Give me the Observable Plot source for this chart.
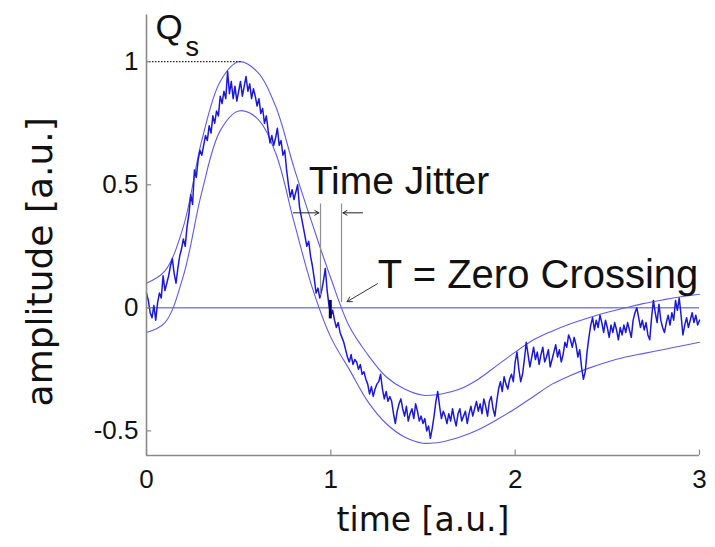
<!DOCTYPE html>
<html><head><meta charset="utf-8">
<script src="https://cdn.jsdelivr.net/npm/d3@7"></script>
<script src="https://cdn.jsdelivr.net/npm/@observablehq/plot@0.6"></script>
<style>body{margin:0;background:#fff}</style>
</head><body><div id="chart"></div>
<script>
// ---- data ----
const envTime = [0,0.1,0.2,0.3,0.4,0.5,0.6,0.7,0.8,0.9,1.0,1.1,1.2,1.3,1.4,1.5,1.6,1.7,1.8,1.9,2.0,2.1,2.2,2.3,2.4,2.5,2.6,2.7,2.8,2.9,3.0];
const upperEnv = [0.10,0.15,0.33,0.68,0.92,1.00,0.96,0.82,0.57,0.34,0.12,-0.075,-0.19,-0.28,-0.33,-0.355,-0.35,-0.33,-0.29,-0.235,-0.18,-0.13,-0.095,-0.065,-0.04,-0.018,0.0,0.018,0.032,0.045,0.055];
const lowerEnv = [-0.10,-0.06,0.13,0.47,0.72,0.80,0.77,0.63,0.35,0.08,-0.12,-0.25,-0.38,-0.47,-0.525,-0.55,-0.545,-0.525,-0.495,-0.455,-0.41,-0.36,-0.31,-0.275,-0.245,-0.22,-0.20,-0.185,-0.17,-0.155,-0.14];

const signalStart = 0, signalStep = 0.01;
const signal = [
 0.06,0.03,-0.02,-0.04,0.01,-0.05,0.02,0.06,0.04,0.13,
 0.07,0.10,0.13,0.17,0.20,0.14,0.10,0.16,0.21,0.24,
 0.28,0.25,0.33,0.38,0.46,0.42,0.56,0.53,0.60,0.64,
 0.62,0.66,0.70,0.68,0.74,0.71,0.78,0.75,0.80,0.78,
 0.86,0.83,0.88,0.85,0.96,0.87,0.92,0.85,0.90,0.84,
 0.88,0.92,0.86,0.90,0.94,0.88,0.91,0.85,0.89,0.86,
 0.82,0.85,0.79,0.81,0.75,0.78,0.72,0.67,0.70,0.66,
 0.69,0.73,0.66,0.68,0.62,0.64,0.56,0.50,0.45,0.48,
 0.44,0.47,0.50,0.41,0.37,0.33,0.29,0.25,0.27,0.21,
 0.17,0.12,0.06,0.08,0.04,0.07,0.11,0.16,0.07,0.01,
 -0.03,-0.01,-0.05,-0.08,-0.06,-0.10,-0.12,-0.14,-0.17,-0.20,
 -0.22,-0.19,-0.23,-0.21,-0.22,-0.25,-0.23,-0.27,-0.26,-0.29,
 -0.31,-0.35,-0.32,-0.36,-0.33,-0.31,-0.30,-0.27,-0.33,-0.37,
 -0.34,-0.38,-0.36,-0.38,-0.43,-0.47,-0.42,-0.39,-0.37,-0.41,
 -0.44,-0.40,-0.46,-0.43,-0.41,-0.45,-0.39,-0.42,-0.46,-0.44,
 -0.47,-0.45,-0.50,-0.48,-0.53,-0.49,-0.44,-0.38,-0.34,-0.40,
 -0.45,-0.42,-0.44,-0.47,-0.43,-0.46,-0.41,-0.45,-0.48,-0.43,
 -0.41,-0.46,-0.44,-0.42,-0.47,-0.43,-0.40,-0.44,-0.41,-0.38,
 -0.42,-0.39,-0.43,-0.37,-0.40,-0.44,-0.38,-0.36,-0.41,-0.44,
 -0.38,-0.33,-0.30,-0.34,-0.28,-0.31,-0.33,-0.29,-0.27,-0.30,
 -0.22,-0.18,-0.25,-0.30,-0.27,-0.21,-0.14,-0.19,-0.24,-0.20,
 -0.16,-0.21,-0.18,-0.23,-0.19,-0.16,-0.22,-0.20,-0.17,-0.24,
 -0.21,-0.18,-0.15,-0.20,-0.17,-0.22,-0.19,-0.14,-0.16,-0.11,
 -0.13,-0.16,-0.12,-0.15,-0.20,-0.17,-0.24,-0.29,-0.26,-0.18,
 -0.12,-0.07,-0.04,-0.09,-0.05,-0.08,-0.03,-0.06,-0.10,-0.05,
 -0.08,-0.12,-0.07,-0.10,-0.06,-0.09,-0.13,-0.08,-0.11,-0.07,
 -0.10,-0.06,-0.09,-0.12,-0.05,-0.02,0.00,-0.04,-0.08,-0.05,
 -0.09,-0.06,-0.11,-0.13,-0.04,0.03,-0.02,-0.06,0.015,-0.05,
 -0.08,-0.10,-0.06,-0.03,-0.07,-0.02,-0.05,0.03,-0.01,0.04,
 -0.03,-0.11,-0.07,-0.04,-0.08,-0.05,-0.02,-0.06,-0.03,-0.07,
 -0.05
];

const xTicks = [0,1,2,3];
const yTicks = [-0.5,0,0.5,1];
const xDomain = [0,3];
const yDomain = [-0.6,1.2];
const yAxisTop = 1.19;
const xTickLen = 0.022;   // inward tick length, y units
const yTickLen = 0.028;   // inward tick length, x units

// annotations (data units)
const qsLevel = 1, qsEnd = 0.52;
const jitterX = [0.944, 1.058];
const jitterTop = [0.422, 0.422];
const jitterBottom = [0.049, 0.021];
const jitterArrows = [
  {x1: 0.797, y1: 0.386, x2: 0.935, y2: 0.386},
  {x1: 1.172, y1: 0.386, x2: 1.066, y2: 0.386}
];
const zeroArrow = [{x1: 1.253, y1: 0.098, x2: 1.088, y2: 0.025}];
const zeroMark = [{x: 0.997, y1: 0.03, y2: -0.045}];
const labels = [
  {text: "Time Jitter", x: 0.88, y: 0.514, size: 39},
  {text: "T = Zero Crossing", x: 1.255, y: 0.134, size: 40},
  {text: "Q", x: 0.049, y: 1.139, size: 35},
  {text: "s", x: 0.212, y: 1.059, size: 27}
];
const xTitle = {text: "time [a.u.]", x: 1.5, y: -0.862};
const yTitle = {text: "amplitude [a.u.]", x: -0.575, y: 0.187};

const envData = envTime.map((t, i) => ({t, u: upperEnv[i], l: lowerEnv[i]}));
const sigData = signal.map((v, i) => ({t: signalStart + i * signalStep, v}));

const sansFont = "'Liberation Sans', Arial, sans-serif";
const labelFont = "'DejaVu Sans', Verdana, sans-serif";
const axisGray = "#8a8a8a";

const chart = Plot.plot({
  width: 715,
  height: 547,
  marginLeft: 146,
  marginRight: 16,
  marginTop: 12,
  marginBottom: 92,
  x: {domain: xDomain, axis: null},
  y: {domain: yDomain, axis: null},
  style: {background: "white", overflow: "visible"},
  marks: [
    // zero line
    Plot.ruleY([0], {x1: xDomain[0], x2: xDomain[1], stroke: "#8080f0", strokeWidth: 1.5}),
    // envelopes
    Plot.line(envData, {x: "t", y: "u", curve: "catmull-rom", stroke: "#5c5ce8", strokeWidth: 1.1}),
    Plot.line(envData, {x: "t", y: "l", curve: "catmull-rom", stroke: "#5c5ce8", strokeWidth: 1.1}),
    // noisy signal
    Plot.line(sigData, {x: "t", y: "v", stroke: "#1a1ad6", strokeWidth: 1.5}),
    // Qs dotted level
    Plot.ruleY([qsLevel], {x1: 0, x2: qsEnd, stroke: "#222", strokeWidth: 1.2, strokeDasharray: "1.5,1.5"}),
    // jitter verticals
    Plot.ruleX(jitterX, {x: d => d, y1: (d, i) => jitterTop[i], y2: (d, i) => jitterBottom[i], stroke: "#909090", strokeWidth: 1.2}),
    Plot.arrow(jitterArrows, {x1: "x1", y1: "y1", x2: "x2", y2: "y2", stroke: "#222", strokeWidth: 1, headLength: 7}),
    Plot.arrow(zeroArrow, {x1: "x1", y1: "y1", x2: "x2", y2: "y2", stroke: "#333", strokeWidth: 1, headLength: 8}),
    Plot.ruleX(zeroMark, {x: "x", y1: "y1", y2: "y2", stroke: "#000050", strokeWidth: 3}),
    // annotation texts
    Plot.text(labels, {x: "x", y: "y", text: "text", fontSize: d => d.size, textAnchor: "start", fill: "#111", fontFamily: sansFont}),
    // axis lines
    Plot.ruleX([xDomain[0]], {y1: yDomain[0], y2: yAxisTop, stroke: axisGray, strokeWidth: 1.6}),
    Plot.ruleY([yDomain[0]], {x1: xDomain[0], x2: xDomain[1], stroke: axisGray, strokeWidth: 1.6}),
    // inward tick marks
    Plot.ruleX(xTicks, {x: d => d, y1: yDomain[0], y2: yDomain[0] + xTickLen, stroke: axisGray, strokeWidth: 1.2}),
    Plot.ruleY(yTicks, {y: d => d, x1: xDomain[0], x2: xDomain[0] + yTickLen, stroke: axisGray, strokeWidth: 1.2}),
    // tick labels
    Plot.axisX({ticks: xTicks, tickFormat: d => String(d), tickSize: 0, tickPadding: 14, color: "#111", fontSize: 26, fontFamily: sansFont, label: null}),
    Plot.axisY({ticks: yTicks, tickFormat: d => String(d), tickSize: 0, tickPadding: 8, color: "#111", fontSize: 26, fontFamily: sansFont, label: null}),
    // axis titles
    Plot.text([xTitle], {x: "x", y: "y", text: "text", textAnchor: "middle", lineAnchor: "middle", fontSize: 33, fontFamily: labelFont, fill: "#111"}),
    Plot.text([yTitle], {x: "x", y: "y", text: "text", textAnchor: "middle", lineAnchor: "middle", rotate: -90, fontSize: 36, fontFamily: labelFont, fill: "#111"})
  ]
});
document.getElementById("chart").appendChild(chart);
</script>
</body></html>
